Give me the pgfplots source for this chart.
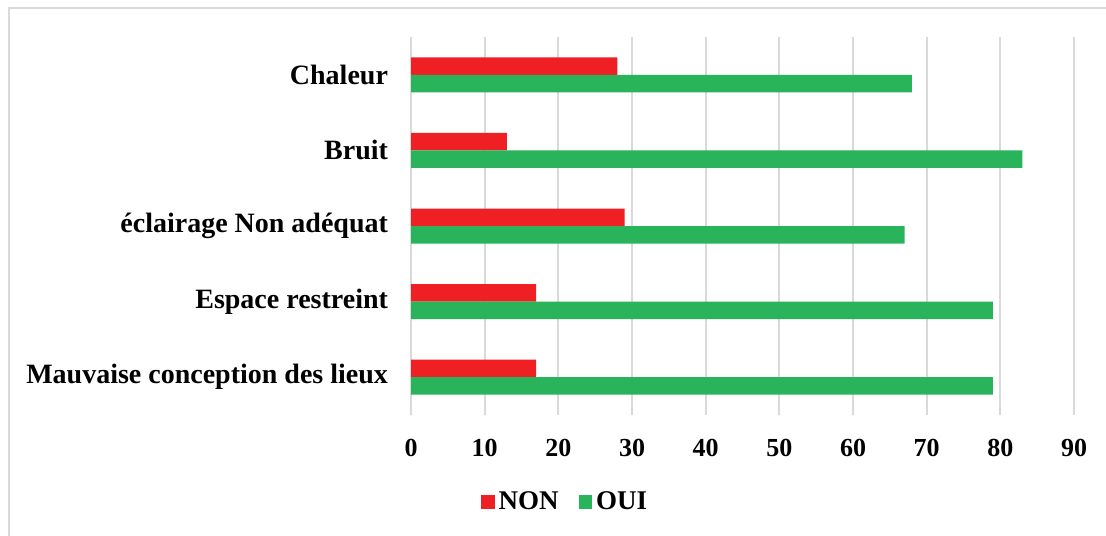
\documentclass[border=0pt]{standalone}
\usepackage{fontspec}
\setmainfont{Liberation Serif}
\usepackage{pgfplots}
\pgfplotsset{compat=1.18}
\definecolor{cred}{HTML}{EE2024}
\definecolor{cgreen}{HTML}{29B35B}
\definecolor{cgrid}{HTML}{D9D9D9}
\begin{document}
\begin{tikzpicture}[x=1pt,y=1pt]
\useasboundingbox (0,0) rectangle (553,267.5);
\draw[cgrid, line width=1.2pt] (4.5,-5) -- (4.5,263.5) -- (560,263.5);
\begin{axis}[
  at={(205.5pt,60pt)}, anchor=south west,
  scale only axis, width=331.5pt, height=189pt,
  xmin=0, xmax=90, ymin=-0.5, ymax=4.5,
  xtick={0,10,...,90}, ytick={0,1,2,3,4},
  yticklabels={Mauvaise conception des lieux, Espace restreint, éclairage Non adéquat, Bruit, Chaleur},
  xmajorgrids, major grid style={cgrid, line width=1pt},
  axis line style={draw=none},
  major tick length=0pt,
  xticklabel style={font=\fontsize{13}{15}\selectfont\bfseries, yshift=-8.5pt},
  yticklabel style={font=\fontsize{14}{16}\selectfont\bfseries, xshift=-8pt},
  /pgf/number format/assume math mode=true,
  xbar, bar width=8.75pt,
  legend columns=2,
  legend style={at={(axis description cs:0.2338,-0.2300)}, anchor=center, draw=none,
    font=\fontsize{13.5}{15}\selectfont\bfseries,
    /tikz/every even column/.append style={column sep=8pt}},
  legend image code/.code={\fill[#1] (0pt,-3.4pt) rectangle (6.8pt,3.4pt);},
]
\addplot[fill=cred, draw=none, bar shift=4.375pt] coordinates {(17,0) (17,1) (29,2) (13,3) (28,4)};
\addlegendentry{NON}
\addplot[fill=cgreen, draw=none, bar shift=-4.375pt] coordinates {(79,0) (79,1) (67,2) (83,3) (68,4)};
\addlegendentry{OUI}
\end{axis}
\end{tikzpicture}
\end{document}
